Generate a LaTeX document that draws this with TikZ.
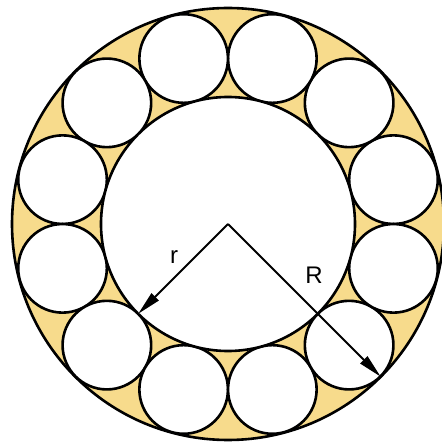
\documentclass[tikz,border=0pt]{standalone}
\usepackage{fontspec}
\setmainfont{Liberation Sans}
\usetikzlibrary{arrows.meta,calc}
\definecolor{ringyellow}{RGB}{247,219,140}
\tikzset{
  ring/.style={circle, draw=black, line width=2.6pt, inner sep=0pt, outer sep=0pt},
  ball/.style={ring, fill=white, minimum size=88.6pt},
  radarrow/.style={line width=1.8pt, -{Triangle[length=24pt,width=10pt]}},
  lbl/.style={font=\fontsize{24}{24}\selectfont, inner sep=0pt}
}
\begin{document}
\begin{tikzpicture}[x=1pt,y=1pt]
\useasboundingbox[fill=white] (0,0) rectangle (442,448);
\coordinate (O) at (228,224);
\node[ring, fill=ringyellow, minimum size=432pt] (outer) at (O) {};
\foreach \i in {0,...,11} {
  \node[ball] (b\i) at ($(O)+({15+30*\i}:171.3)$) {};
}
\node[ring, fill=white, minimum size=254pt] (inner) at (O) {};
\draw[radarrow] (O) -- (inner.225);
\draw[radarrow] (O) -- (outer.-45);
\node[lbl] (lr) at (174,191) {r};
\node[lbl] (lR) at (314,173) {R};
\end{tikzpicture}
\end{document}
